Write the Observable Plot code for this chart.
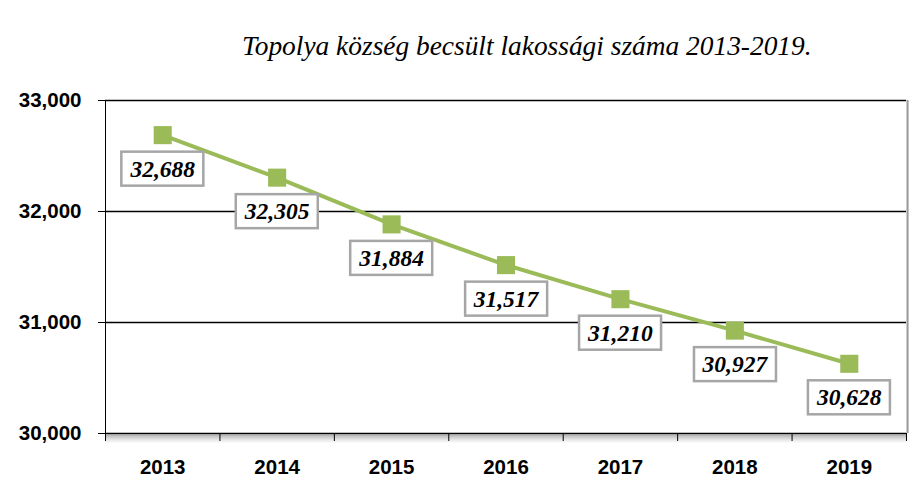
<!DOCTYPE html>
<html><head><meta charset="utf-8">
<script src="https://cdn.jsdelivr.net/npm/d3@7"></script>
<script src="https://cdn.jsdelivr.net/npm/@observablehq/plot@0.6"></script>
<style>
body{margin:0;background:#fff;}
#title{height:72px;position:relative;}
#title span{position:absolute;left:242px;top:33px;font-family:"Liberation Serif",serif;font-style:italic;font-size:26px;white-space:nowrap;color:#000;line-height:1;}
#chart svg{display:block;}
</style></head><body>
<div id="title"><span id="ttl">Topolya község becsült lakossági száma 2013-2019.</span></div>
<div id="chart"></div>
<script>
const years = [2013, 2014, 2015, 2016, 2017, 2018, 2019];
const population = [32688, 32305, 31884, 31517, 31210, 30927, 30628];
const yTicks = [30000, 31000, 32000, 33000];
const gridLines = [31000, 32000, 33000];
const bandEdges = [2012.5, 2013.5, 2014.5, 2015.5, 2016.5, 2017.5, 2018.5, 2019.5];

const data = years.map((yr, i) => ({year: yr, value: population[i]}));
const fmt = d3.format(",");

// fit title width
const ttl = document.getElementById("ttl");
const w0 = ttl.getBoundingClientRect().width;
ttl.style.fontSize = (26 * 570 / w0) + "px";

const green = "#9bbb59";
const chart = Plot.plot({
  width: 909,
  height: 427,
  marginTop: 28,
  marginBottom: 66,
  marginLeft: 105,
  marginRight: 3,
  style: {fontFamily: "'Liberation Sans', sans-serif", fontWeight: "bold", fontSize: "20px", color: "#000", background: "#fff"},
  x: {domain: [2012.5, 2019.5], label: null},
  y: {domain: [30000, 33000], label: null},
  marks: [
    // bottom shadow
    Plot.ruleY([30000], {dy: 2, stroke: "#000", strokeOpacity: 0.28, strokeWidth: 2}),
    Plot.ruleY([30000], {dy: 4, stroke: "#000", strokeOpacity: 0.18, strokeWidth: 2}),
    Plot.ruleY([30000], {dy: 6, stroke: "#000", strokeOpacity: 0.10, strokeWidth: 2}),
    Plot.ruleY([30000], {dy: 8, stroke: "#000", strokeOpacity: 0.05, strokeWidth: 2}),
    Plot.ruleY(gridLines, {stroke: "#000", strokeWidth: 1.6}),
    Plot.ruleX([2019.5], {stroke: "#9a9a9a", strokeWidth: 2, dx: 1}),
    Plot.ruleX([2019.5], {stroke: "#000", strokeOpacity: 0.08, strokeWidth: 2, dx: 3}),
    Plot.ruleX([2012.5], {stroke: "#000", strokeWidth: 1}),
    Plot.ruleY([30000], {stroke: "#000", strokeWidth: 1.3}),
    Plot.axisY({ticks: yTicks, tickFormat: fmt, tickSize: 7, tickPadding: 17, fontSize: 20.5, label: null}),
    Plot.axisX({ticks: bandEdges, tickFormat: () => "", tickSize: 8, label: null}),
    Plot.axisX({ticks: years, tickFormat: d => String(d), tickSize: 0, tickPadding: 26, fontSize: 20.5, label: null}),
    Plot.line(data, {x: "year", y: "value", stroke: green, strokeWidth: 4}),
    Plot.dot(data, {x: "year", y: "value", symbol: "square", r: 10.2, fill: green, stroke: "none"}),
    Plot.text(data, {x: "year", y: "value", text: d => fmt(d.value), dy: 34,
      fontFamily: "'Liberation Serif', serif", fontWeight: "bold", fontStyle: "italic", fontSize: 23.5, fill: "#000"})
  ]
});
document.getElementById("chart").appendChild(chart);

// draw boxes behind the data labels
const svg = d3.select(chart);
const tg = svg.select('g[aria-label="text"]');
tg.selectAll("text").each(function() {
  const b = this.getBBox();
  const cx = b.x + b.width / 2, cy = b.y + b.height / 2;
  const bw = 82, bh = 34;
  const g = this.parentNode;
  const r = document.createElementNS("http://www.w3.org/2000/svg", "rect");
  const t = this.getAttribute("transform");
  if (t) r.setAttribute("transform", t);
  r.setAttribute("x", cx - bw / 2);
  r.setAttribute("y", cy - bh / 2);
  r.setAttribute("width", bw);
  r.setAttribute("height", bh);
  r.setAttribute("fill", "#fff");
  r.setAttribute("stroke", "#a6a6a6");
  r.setAttribute("stroke-width", 2.5);
  g.insertBefore(r, this);
});
</script>
</body></html>
